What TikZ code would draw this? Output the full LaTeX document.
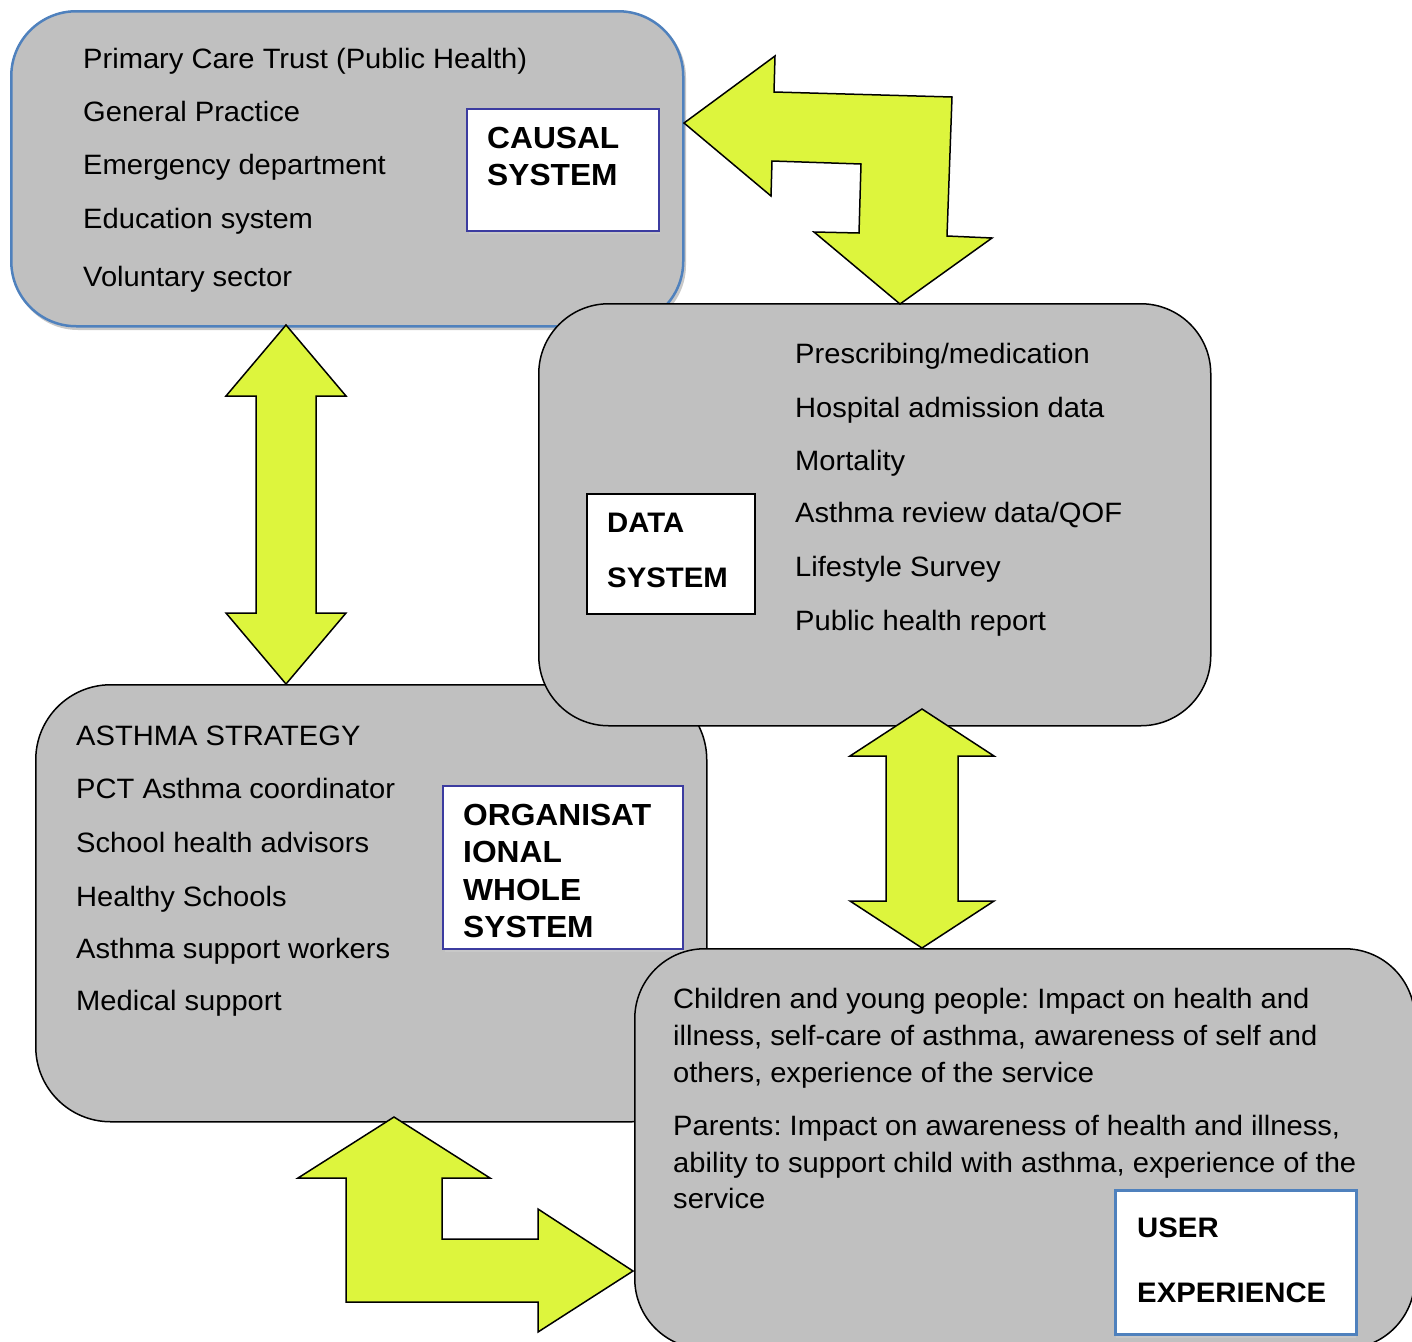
\documentclass[tikz,border=0pt]{standalone}
\usepackage{fontspec}
\setmainfont{Liberation Sans}[FakeStretch=1.04]
\frenchspacing
\definecolor{boxgray}{HTML}{C0C0C0}
\definecolor{shadowgray}{HTML}{C8C8C8}
\definecolor{accblue}{HTML}{4F81BD}
\definecolor{labblue}{HTML}{3C3CA0}
\definecolor{arrowfill}{HTML}{DDF53D}
\tikzset{
  x=1pt, y=-1pt,
  sysbox/.style={draw=black, line width=1.5pt, fill=boxgray, rounded corners=#1, anchor=north west, inner sep=0pt},
  labbox/.style={draw=black, line width=1.5pt, fill=white, anchor=north west, inner sep=0pt},
  txt/.style={anchor=base west, inner sep=0pt, font=\fontsize{28}{32}\selectfont\frenchspacing},
  btxt/.style={anchor=base west, inner sep=0pt, font=\fontsize{30.5}{34}\selectfont\bfseries},
  bstxt/.style={anchor=base west, inner sep=0pt, font=\fontsize{28.2}{32}\selectfont\bfseries},
  bigarrow/.style={draw=black, line width=1.5pt, fill=arrowfill, line join=miter},
}
\begin{document}
\begin{tikzpicture}
\useasboundingbox (0,0) rectangle (1412,1341);
\begin{scope}
\clip (0,0) rectangle (1412,1341);
% causal system
\fill[shadowgray, rounded corners=65pt] (13,13) rectangle (686,330);
\node[sysbox=65pt, draw=accblue, line width=2.5pt, minimum width=672pt, minimum height=315pt] (causal) at (10,10) {};
\fill[shadowgray] (469,231) rectangle (660,234);
\node[labbox, draw=labblue, line width=1.6pt, minimum width=192pt, minimum height=122pt] (causallab) at (466,108) {};
\node[txt] (c1) at (83,68) {Primary Care Trust (Public Health)};
\node[txt] (c2) at (83,121) {General Practice};
\node[txt] (c3) at (83,174) {Emergency department};
\node[txt] (c4) at (83,228) {Education system};
\node[txt] (c5) at (83,286) {Voluntary sector};
\node[btxt] (cl1) at (487,148) {CAUSAL};
\node[btxt] (cl2) at (487,185) {SYSTEM};
% organisational system
\node[sysbox=75pt, minimum width=671pt, minimum height=437pt] (org) at (35,684) {};
\fill[shadowgray] (445,949) rectangle (684,952);
\node[labbox, draw=labblue, line width=1.6pt, minimum width=240pt, minimum height=163pt] (orglab) at (442,785) {};
\node[txt] (o1) at (76,745) {ASTHMA STRATEGY};
\node[txt] (o2) at (76,798) {PCT Asthma coordinator};
\node[txt] (o3) at (76,852) {School health advisors};
\node[txt] (o4) at (76,906) {Healthy Schools};
\node[txt] (o5) at (76,958) {Asthma support workers};
\node[txt] (o6) at (76,1010) {Medical support};
\node[btxt] (ol1) at (463,825) {ORGANISAT};
\node[btxt] (ol2) at (463,862) {IONAL};
\node[btxt] (ol3) at (463,900) {WHOLE};
\node[btxt] (ol4) at (463,937) {SYSTEM};
% data system
\node[sysbox=70pt, minimum width=672pt, minimum height=422pt] (data) at (538,303) {};
\node[labbox, line width=1.5pt, minimum width=168pt, minimum height=120pt] (datalab) at (586,493) {};
\node[txt] (d1) at (795,363) {Prescribing/medication};
\node[txt] (d2) at (795,417) {Hospital admission data};
\node[txt] (d3) at (795,470) {Mortality};
\node[txt] (d4) at (795,522) {Asthma review data/QOF};
\node[txt] (d5) at (795,576) {Lifestyle Survey};
\node[txt] (d6) at (795,630) {Public health report};
\node[bstxt] (dl1) at (607,532) {DATA};
\node[bstxt] (dl2) at (607,587) {SYSTEM};
% user experience
\node[sysbox=70pt, minimum width=780pt, minimum height=400pt] (user) at (634,948) {};
\fill[shadowgray] (1116,1334) rectangle (1356,1338);
\node[labbox, draw=accblue, line width=2.5pt, minimum width=241pt, minimum height=144pt] (userlab) at (1114,1189) {};
\node[txt] (u1) at (673,1008) {Children and young people: Impact on health and};
\node[txt] (u2) at (673,1045) {illness, self-care of asthma, awareness of self and};
\node[txt] (u3) at (673,1082) {others, experience of the service};
\node[txt] (u4) at (673,1135) {Parents: Impact on awareness of health and illness,};
\node[txt] (u5) at (673,1172) {ability to support child with asthma, experience of the};
\node[txt] (u6) at (673,1208) {service};
\node[bstxt] (ul1) at (1137,1237) {USER};
\node[bstxt] (ul2) at (1137,1302) {EXPERIENCE};
% arrows
\draw[bigarrow] (684,123) -- (775,56) -- (774,92) -- (952,97) -- (947,236) -- (992,238)
  -- (900,304) -- (814,232) -- (859,233) -- (861,164) -- (772,161) -- (771,196) -- cycle;
\draw[bigarrow] (286,325) -- (346,396) -- (316,396) -- (316,613) -- (346,613) -- (286,684)
  -- (226,613) -- (256,613) -- (256,396) -- (226,396) -- cycle;
\draw[bigarrow] (922,709) -- (994,756) -- (958,756) -- (958,901) -- (994,901) -- (922,948)
  -- (850,901) -- (886,901) -- (886,756) -- (850,756) -- cycle;
\draw[bigarrow] (394,1117) -- (490,1178) -- (442,1178) -- (442,1239) -- (538,1239) -- (538,1209)
  -- (633,1271) -- (538,1332) -- (538,1302) -- (346,1302) -- (346,1178) -- (298,1178) -- cycle;
\end{scope}
\end{tikzpicture}
\end{document}
